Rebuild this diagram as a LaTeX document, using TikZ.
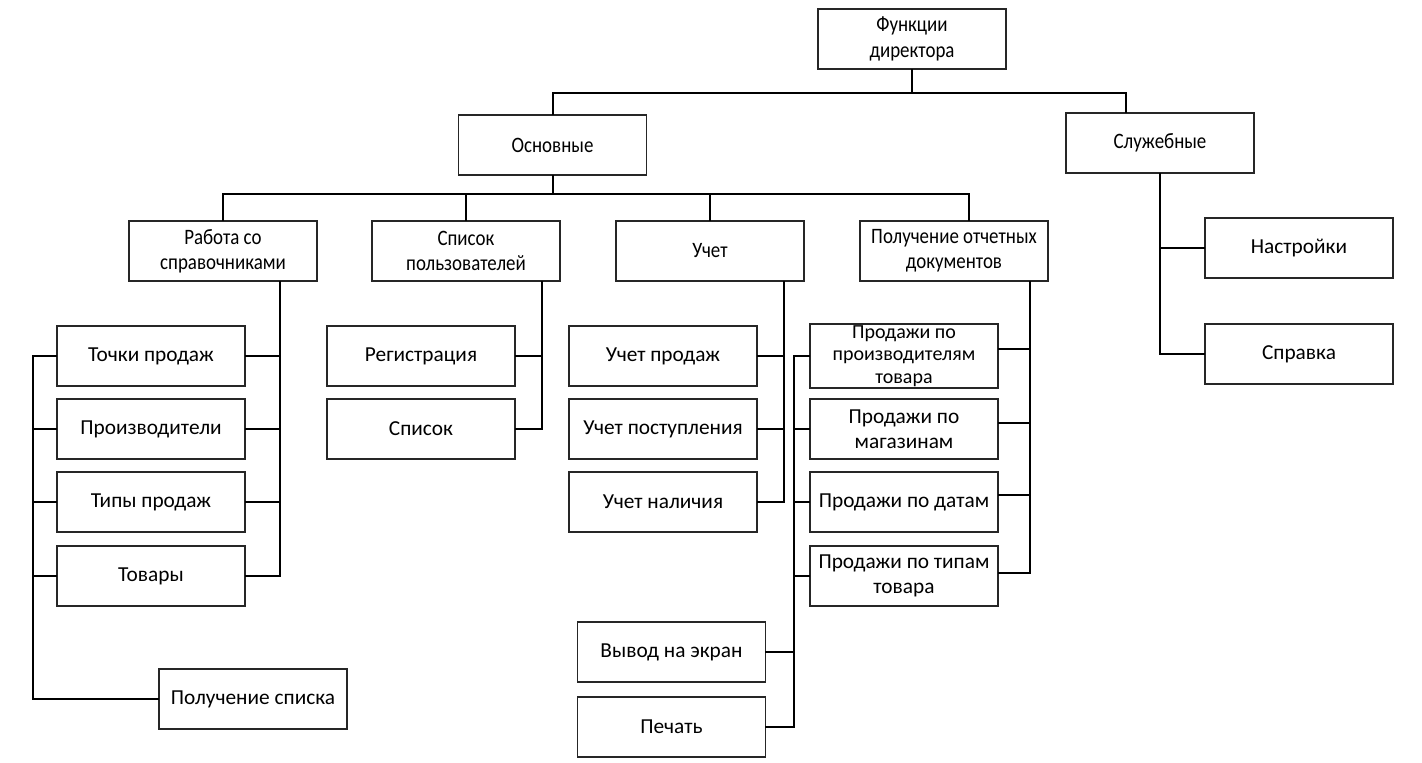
\documentclass[tikz,border=0pt]{standalone}
\usepackage{fontspec}
\setmainfont{Carlito}
\newfontfamily\cond{Carlito}[FakeStretch=0.86]
\usetikzlibrary{calc}
\tikzset{
  box/.style={draw=black!85, line width=1.1pt, minimum width=141pt, minimum height=45pt, inner sep=1pt, align=center, font=\fontsize{16}{19}\selectfont, fill=white},
  cbox/.style={box, font=\cond\fontsize{16.5}{19}\selectfont},
  conn/.style={line width=1.5pt, line cap=rect}
}
\begin{document}
\begin{tikzpicture}[x=0.75pt,y=-0.75pt]
\useasboundingbox (0,0) rectangle (1422,763);
% nodes
\node[cbox] (f) at (912,39) {Функции\\директора};
\node[cbox] (o) at (552.5,145) {Основные};
\node[cbox] (s) at (1160,143) {Служебные};
\node[cbox] (r) at (223,251) {Работа со\\справочниками};
\node[cbox] (p) at (466,251) {Список\\пользователей};
\node[cbox] (u) at (710,251) {Учет};
\node[cbox] (d) at (954,251) {Получение отчетных\\документов};
\node[box] (t1) at (151,356) {Точки продаж};
\node[box] (t2) at (151,429) {Производители};
\node[box] (t3) at (151,502) {Типы продаж};
\node[box] (t4) at (151,576) {Товары};
\node[box] (gl) at (253,699) {Получение списка};
\node[box] (rg) at (421,356) {Регистрация};
\node[box] (sp) at (421,429) {Список};
\node[box] (u1) at (663,356) {Учет продаж};
\node[box] (u2) at (663,429) {Учет поступления};
\node[box] (u3) at (663,502) {Учет наличия};
\node[box, font=\fontsize{15}{17}\selectfont] (d1) at (904,356) {Продажи по\\производителям\\товара};
\node[box] (d2) at (904,429) {Продажи по\\магазинам};
\node[box] (d3) at (904,502) {Продажи по датам};
\node[box] (d4) at (904,576) {Продажи по типам\\товара};
\node[box] (v1) at (671.5,652) {Вывод на экран};
\node[box] (v2) at (671.5,727) {Печать};
\node[box] (n1) at (1299,248) {Настройки};
\node[box] (n2) at (1299,354) {Справка};
% bus coordinates
\coordinate (b1) at (0,93);
\coordinate (b2) at (0,194);
\coordinate (xs) at (1126,0);
\coordinate (xd) at (969,0);
\coordinate (xr) at (280,0);
\coordinate (xp) at (542,0);
\coordinate (xu) at (784,0);
\coordinate (xdd) at (1030,0);
\coordinate (xl) at (33,0);
\coordinate (xm) at (794,0);
% level 1
\draw[conn] (f.south) -- (f.south |- b1);
\draw[conn] (o.north) -- (o.north |- b1) -- (xs |- b1) -- (xs |- s.north);
% level 2
\draw[conn] (o.south) -- (o.south |- b2);
\draw[conn] (r.north) -- (r.north |- b2) -- (xd |- b2) -- (xd |- d.north);
\draw[conn] (p.north) -- (p.north |- b2);
\draw[conn] (u.north) -- (u.north |- b2);
% Работа со справочниками
\draw[conn] (xr |- r.south) -- (xr |- t4.east) -- (t4.east);
\draw[conn] (xr |- t1.east) -- (t1.east);
\draw[conn] (xr |- t2.east) -- (t2.east);
\draw[conn] (xr |- t3.east) -- (t3.east);
\draw[conn] (t1.west) -- (xl |- t1.west) -- (xl |- gl.west) -- (gl.west);
\draw[conn] (xl |- t2.west) -- (t2.west);
\draw[conn] (xl |- t3.west) -- (t3.west);
\draw[conn] (xl |- t4.west) -- (t4.west);
% Список пользователей
\draw[conn] (xp |- p.south) -- (xp |- sp.east) -- (sp.east);
\draw[conn] (xp |- rg.east) -- (rg.east);
% Учет
\draw[conn] (xu |- u.south) -- (xu |- u3.east) -- (u3.east);
\draw[conn] (xu |- u1.east) -- (u1.east);
\draw[conn] (xu |- u2.east) -- (u2.east);
% Получение отчетных документов
\draw[conn] (xdd |- d.south) -- ($(xdd |- d4.east)+(0,-3)$) -- ($(d4.east)+(0,-3)$);
\draw[conn] ($(xdd |- d1.east)+(0,-7)$) -- ($(d1.east)+(0,-7)$);
\draw[conn] ($(xdd |- d2.east)+(0,-6)$) -- ($(d2.east)+(0,-6)$);
\draw[conn] ($(xdd |- d3.east)+(0,-7)$) -- ($(d3.east)+(0,-7)$);
\draw[conn] (d1.west) -- (xm |- d1.west) -- (xm |- v2.east) -- (v2.east);
\draw[conn] (xm |- d2.west) -- (d2.west);
\draw[conn] (xm |- d3.west) -- (d3.west);
\draw[conn] (xm |- d4.west) -- (d4.west);
\draw[conn] (xm |- v1.east) -- (v1.east);
% Служебные
\draw[conn] (s.south) -- (s.south |- n2.west) -- (n2.west);
\draw[conn] (s.south |- n1.west) -- (n1.west);
\end{tikzpicture}
\end{document}
